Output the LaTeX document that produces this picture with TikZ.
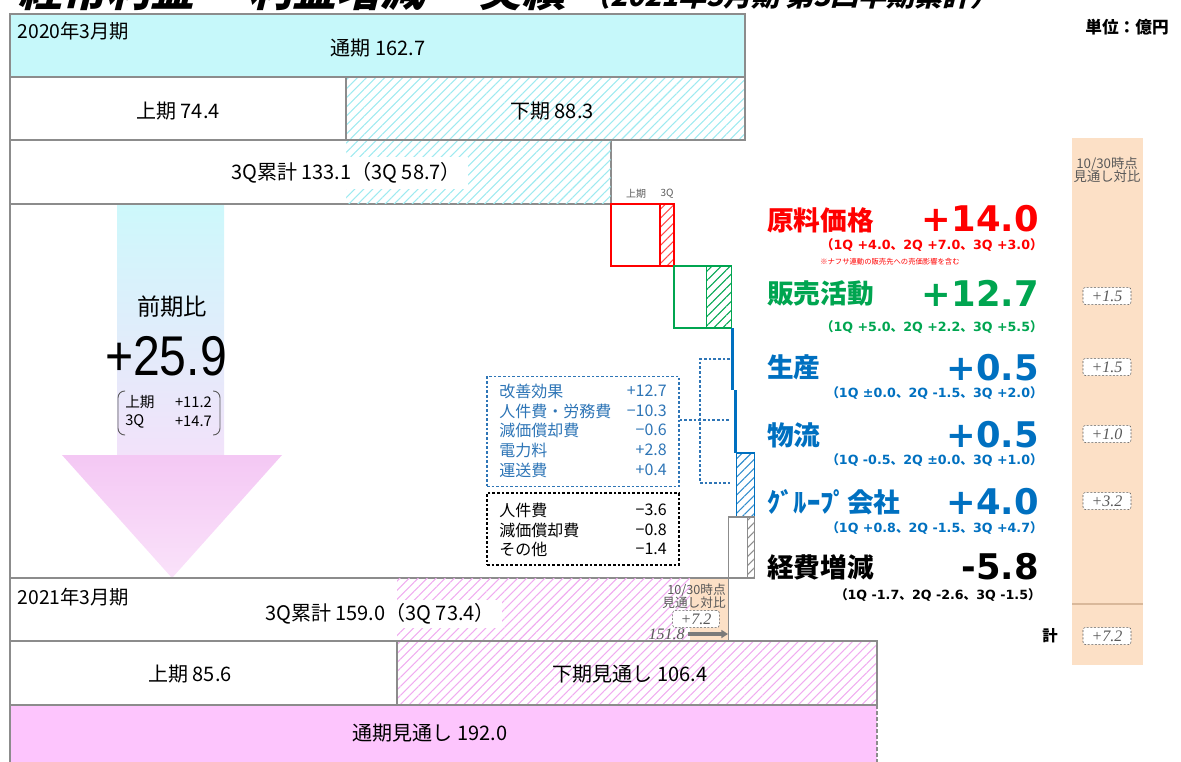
\documentclass[tikz,border=0pt]{standalone}
\usepackage{fontspec}
\setmainfont{Noto Sans CJK JP}
\newfontfamily\jp{Noto Sans CJK JP}
\newfontfamily\dv{DejaVu Sans}
\newfontfamily\lsans{Liberation Sans}
\newfontfamily\lserif{Liberation Serif}
\newfontfamily\titlefont{Noto Sans CJK JP}[FakeSlant=0.25]
\usetikzlibrary{patterns.meta,arrows.meta}
\newcommand{\fz}[1]{\fontsize{#1}{#1}\selectfont}
\newcommand{\dq}[3]{{\jp （}1Q #1{\jp 、}2Q #2{\jp 、}3Q #3{\jp ）}}
\definecolor{boxgray}{HTML}{8C8C8C}
\definecolor{cyanfill}{HTML}{C6F8FA}
\definecolor{cyanhatch}{HTML}{9EEAF0}
\definecolor{pinkfill}{HTML}{FDC5FD}
\definecolor{pinkhatch}{HTML}{F0ACF0}
\definecolor{peach}{HTML}{FCE0C6}
\definecolor{peachline}{HTML}{D9B89A}
\definecolor{cred}{HTML}{FF0000}
\definecolor{cgreen}{HTML}{00A550}
\definecolor{cblue}{HTML}{0070C0}
\definecolor{lblue}{HTML}{2E75B6}
\definecolor{grayt}{HTML}{595959}
\definecolor{bandtop}{HTML}{CDF8FB}
\definecolor{bandbot}{HTML}{F2E2FA}
\definecolor{headtop}{HTML}{F4C8F4}
\definecolor{headbot}{HTML}{FAE2FA}
\tikzset{
  bx/.style={draw=boxgray, line width=1pt},
  tb/.style={font=\fz{15}, inner sep=1pt},
  yb/.style={font=\fz{14.5}, inner sep=1pt, anchor=west},
  hatch/.style={pattern={Lines[angle=45,distance=4.8pt,line width=0.8pt]}, pattern color=#1},
  lab/.style={font=\jp\bfseries\fz{20}, inner sep=0pt, anchor=west},
  num/.style={font=\dv\bfseries\fz{26.5}, inner sep=0pt, anchor=east},
  det/.style={font=\dv\bfseries\fz{9.5}, inner sep=0pt, anchor=east},
  valbox/.style={draw=grayt, dash pattern=on 1.5pt off 1.2pt, fill=white, rounded corners=2pt,
    minimum width=36pt, minimum height=13pt, inner sep=0pt, text=grayt, font=\lserif\itshape\fz{12}},
  small/.style={font=\fz{10}, text=grayt, inner sep=0pt, align=center},
  rowt/.style={font=\fz{12}, inner sep=0pt},
  dbox/.style={dash pattern=on 2pt off 1.5pt, line width=0.9pt, minimum width=144pt, inner sep=0pt}
}
\begin{document}
\begin{tikzpicture}[x=0.75pt,y=-0.75pt]
\useasboundingbox (0,0) rectangle (1181,761);
% title (clipped at top, as in the reference)
\begin{scope}
\clip (0,0) rectangle (1181,761);
\node[font=\titlefont\bfseries\fz{33}, inner sep=0pt, anchor=base west] (title) at (18,6) {経常利益 －利益増減－ 実績};
\node[font=\titlefont\bfseries\fz{21}, inner sep=0pt, anchor=base west] (subtitle) at (582,6) {（2021年3月期 第3四半期累計）};
\end{scope}
\node[font=\bfseries\fz{12.5}, inner sep=0pt] (unit) at (1127,27) {単位：億円};

% 2020 rows
\draw[bx, fill=cyanfill] (10,14) rectangle (745,77);
\node[yb] (y20) at (16,31) {2020年3月期};
\node[tb] (t20) at (378,48) {通期 162.7};
\draw[bx] (10,77) rectangle (346,140);
\draw[bx, hatch=cyanhatch] (346,77) rectangle (745,140);
\node[tb] (h1a) at (178,111) {上期 74.4};
\node[tb] (h2a) at (552,111) {下期 88.3};
\draw[bx] (10,140) rectangle (611,204);
\fill[hatch=cyanhatch] (346,141) rectangle (610.5,203.5);
\node[tb, fill=white, inner xsep=5pt, inner ysep=4pt] (q3a) at (346,173) {3Q累計 133.1（3Q 58.7）};

% big arrow
\shade[top color=bandtop, bottom color=bandbot] (117,205) rectangle (224,455);
\shade[top color=headtop, bottom color=headbot] (62,455) -- (282,455) -- (172,578) -- cycle;
\draw[bx] (10,204) -- (10,578);
\node[font=\fz{17.5}, inner sep=0pt] (zen) at (172,307) {前期比};
\node[font=\lsans\fz{42}, inner sep=0pt] (tot) at (166,356) {\scalebox{0.86}[1]{+25.9}};
\node[font=\fz{11}, inner sep=0pt, anchor=west] (b1) at (125,402) {上期};
\node[font=\fz{11}, inner sep=0pt, anchor=east] (b1v) at (212,402) {+11.2};
\node[font=\fz{11}, inner sep=0pt, anchor=west] (b2) at (125,421) {3Q};
\node[font=\fz{11}, inner sep=0pt, anchor=east] (b2v) at (212,421) {+14.7};
\draw[draw=grayt, line width=0.7pt, rounded corners=5pt] (125,391) -- (118,391) -- (118,435) -- (125,435);
\draw[draw=grayt, line width=0.7pt, rounded corners=5pt] (213,391) -- (220,391) -- (220,435) -- (213,435);

% waterfall
\node[small, font=\fz{7.5}] (wl1) at (636,194) {上期};
\node[small, font=\fz{7.5}] (wl2) at (667,194) {3Q};
\draw[draw=cred, line width=1pt] (611,204) rectangle (674,266);
\draw[draw=cred, line width=0.8pt, hatch=cred!70] (660,204) rectangle (674,266);
\draw[draw=cgreen, line width=1pt] (674,266) rectangle (731.7,328);
\draw[draw=cgreen, line width=0.8pt, hatch=cgreen] (706.8,266) rectangle (731.7,328);
\fill[cblue] (730.8,328) rectangle (734,390);
\fill[cblue] (733.5,390) rectangle (736.8,453);
\draw[draw=cblue, line width=1pt, hatch=cblue!80] (736.3,453) rectangle (754.4,517);
\draw[bx] (728.2,517) rectangle (754.4,578);
\fill[hatch=boxgray] (747.6,517.5) rectangle (754,577.5);
\draw[draw=boxgray, line width=0.6pt] (747.6,517) -- (747.6,578);

% improvement box
\node[dbox, draw=lblue, minimum height=83pt] (kaizen) at (583,431.5) {};
\node[rowt, text=lblue, anchor=west] (k1) at (499,391) {改善効果};
\node[rowt, text=lblue, anchor=west] (k2) at (499,411) {人件費・労務費};
\node[rowt, text=lblue, anchor=west] (k3) at (499,430) {減価償却費};
\node[rowt, text=lblue, anchor=west] (k4) at (499,450) {電力料};
\node[rowt, text=lblue, anchor=west] (k5) at (499,470) {運送費};
\node[rowt, text=lblue, anchor=east] (v1) at (667,391) {+12.7};
\node[rowt, text=lblue, anchor=east] (v2) at (667,411) {−10.3};
\node[rowt, text=lblue, anchor=east] (v3) at (667,430) {−0.6};
\node[rowt, text=lblue, anchor=east] (v4) at (667,450) {+2.8};
\node[rowt, text=lblue, anchor=east] (v5) at (667,470) {+0.4};
\coordinate (brt) at (730,359);
\coordinate (brm) at (730,420);
\coordinate (brb) at (730,483);
\draw[draw=lblue, dash pattern=on 2pt off 1.5pt, line width=0.9pt] (brt) -- (700,359) -- (700,483) -- (brb);
\draw[draw=lblue, dash pattern=on 2pt off 1.5pt, line width=0.9pt] (kaizen.east |- brm) -- (brm);

% expense box
\node[dbox, draw=black, minimum height=54pt] (keihi) at (583,529) {};
\node[rowt, anchor=west] (e1) at (499,510) {人件費};
\node[rowt, anchor=west] (e2) at (499,530) {減価償却費};
\node[rowt, anchor=west] (e3) at (499,549) {その他};
\node[rowt, anchor=east] (ev1) at (667,510) {−3.6};
\node[rowt, anchor=east] (ev2) at (667,530) {−0.8};
\node[rowt, anchor=east] (ev3) at (667,549) {−1.4};

% right labels
\node[lab, text=cred] (l1) at (767,220) {原料価格};
\node[num, text=cred] (n1) at (1039,219) {+14.0};
\node[det, text=cred] (d1) at (1043,245) {\dq{+4.0}{+7.0}{+3.0}};
\node[font=\fz{5.5}, text=cred, inner sep=0pt, anchor=west] (note) at (820,262) {※ナフサ連動の販売先への売価影響を含む};
\node[lab, text=cgreen] (l2) at (767,293) {販売活動};
\node[num, text=cgreen] (n2) at (1039,293) {+12.7};
\node[det, text=cgreen] (d2) at (1043,327) {\dq{+5.0}{+2.2}{+5.5}};
\node[lab, text=cblue] (l3) at (767,367) {生産};
\node[num, text=cblue] (n3) at (1039,368) {+0.5};
\node[det, text=cblue] (d3) at (1043,393) {\dq{±0.0}{-1.5}{+2.0}};
\node[lab, text=cblue] (l4) at (767,435) {物流};
\node[num, text=cblue] (n4) at (1039,435) {+0.5};
\node[det, text=cblue] (d4) at (1043,460) {\dq{-0.5}{±0.0}{+1.0}};
\node[lab, text=cblue] (l5) at (767,502) {ｸﾞﾙｰﾌﾟ会社};
\node[num, text=cblue] (n5) at (1039,502) {+4.0};
\node[det, text=cblue] (d5) at (1043,528) {\dq{+0.8}{-1.5}{+4.7}};
\node[lab, text=black] (l6) at (767,567) {経費増減};
\node[num, text=black] (n6) at (1039,567) {-5.8};
\node[det, text=black] (d6) at (1041,595) {\dq{-1.7}{-2.6}{-1.5}};

% right comparison column
\fill[peach] (1072,138) rectangle (1143,665);
\draw[draw=peachline, line width=1pt] (1072,604) -- (1143,604);
\node[small] (cmp) at (1107,170) {10/30時点\\[-1pt]見通し対比};
\node[valbox] (c2) at (1107,296) {+1.5};
\node[valbox] (c3) at (1107,367) {+1.5};
\node[valbox] (c4) at (1107,434) {+1.0};
\node[valbox] (c5) at (1107,501) {+3.2};
\node[valbox] (c7) at (1107,636) {+7.2};
\node[font=\bfseries\fz{11.5}, inner sep=0pt] (kei) at (1050,636) {計};

% 2021 rows
\draw[bx] (10,578) rectangle (728,641);
\fill[hatch=pinkhatch] (397,578.5) rectangle (690,640.5);
\fill[peach] (690,578.5) rectangle (727.5,640.5);
\node[yb] (y21) at (16,597) {2021年3月期};
\node[tb, fill=white, inner xsep=5pt, inner ysep=3pt] (q3b) at (380,614) {3Q累計 159.0（3Q 73.4）};
\node[small, font=\fz{9.5}, align=right, anchor=east] (cmp2) at (726,596) {10/30時点\\[-1pt]見通し対比};
\node[valbox, minimum width=35pt] (c8) at (696,619) {+7.2};
\node[font=\lserif\itshape\fz{12}, text=grayt, inner sep=0pt, anchor=east] (prev) at (685,634) {151.8};
\coordinate (arrend) at (728,634);
\draw[draw=grayt!80, line width=2.5pt, -{Triangle[length=5pt,width=6pt]}] (prev.east) ++(3,0) -- (arrend);
\draw[bx] (10,641) rectangle (397,705);
\draw[bx, hatch=pinkhatch] (397,641) rectangle (877,705);
\node[tb] (h1b) at (190,674) {上期 85.6};
\node[tb] (h2b) at (630,674) {下期見通し 106.4};
\fill[pinkfill] (10,705) rectangle (877,765);
\draw[bx] (10,765) -- (10,705) -- (877,705);
\draw[draw=boxgray, line width=1pt, dash pattern=on 3pt off 1.5pt] (877,705) -- (877,765);
\node[tb] (fy) at (430,733) {通期見通し 192.0};
\end{tikzpicture}
\end{document}
